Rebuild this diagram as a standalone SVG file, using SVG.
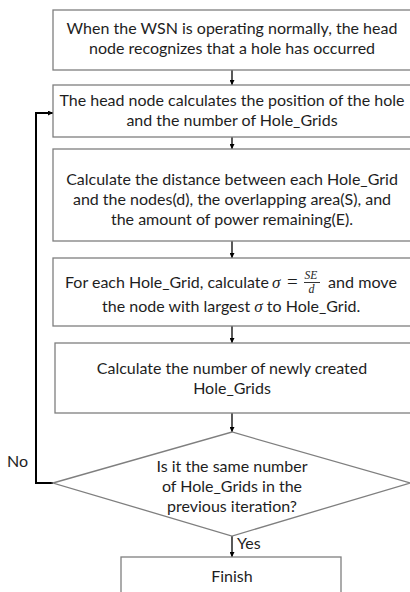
<svg xmlns="http://www.w3.org/2000/svg" width="410" height="592" viewBox="0 0 410 592">
<defs>
<marker id="ah" viewBox="0 0 10 10" refX="10" refY="5" markerWidth="5" markerHeight="5" orient="auto" markerUnits="userSpaceOnUse"><path d="M0,0 L10,5 L0,10 z" fill="#000"/></marker>
<style>
.box{fill:#fff;stroke:#7f7f7f;stroke-width:1.3}
.t{font-family:Lato,"Open Sans","Liberation Sans",sans-serif;font-size:16px;fill:#1e1e1e;text-anchor:middle}
.l{font-family:Lato,"Open Sans","Liberation Sans",sans-serif;font-size:16px;fill:#1e1e1e}
.m{font-family:"Liberation Serif","DejaVu Serif",serif;font-style:italic;fill:#1e1e1e}
.c{stroke:#000;stroke-width:1.3;fill:none;marker-end:url(#ah)}
</style>
</defs>
<rect width="410" height="592" fill="#fff"/>
<g id="connectors">
<line class="c" x1="232" y1="70" x2="232" y2="85"/>
<line class="c" x1="232" y1="137" x2="232" y2="149"/>
<line class="c" x1="232" y1="241" x2="232" y2="258"/>
<line class="c" x1="232" y1="326" x2="232" y2="343"/>
<line class="c" x1="232" y1="413" x2="232" y2="432"/>
<line class="c" x1="232" y1="536" x2="232" y2="557"/>
<polyline class="c" style="stroke-width:2" points="53,483 36,483 36,113 53,113"/>
<text class="l" x="7" y="467">No</text>
<text class="l" x="237" y="549">Yes</text>
</g>
<g id="n1">
<rect class="box" x="53" y="10" width="370" height="60"/>
<text class="t" x="232" y="34">When the WSN is operating normally, the head</text>
<text class="t" x="232" y="54">node recognizes that a hole has occurred</text>
</g>
<g id="n2">
<rect class="box" x="53" y="85" width="370" height="52"/>
<text class="t" x="232" y="106">The head node calculates the position of the hole</text>
<text class="t" x="232" y="126">and the number of Hole_Grids</text>
</g>
<g id="n3">
<rect class="box" x="53" y="149" width="370" height="92"/>
<text class="t" x="232" y="185">Calculate the distance between each Hole_Grid</text>
<text class="t" x="232" y="205">and the nodes(d), the overlapping area(S), and</text>
<text class="t" x="232" y="225">the amount of power remaining(E).</text>
</g>
<g id="n4">
<rect class="box" x="53" y="258" width="370" height="68"/>
<text class="l" x="65" y="288" textLength="204" lengthAdjust="spacingAndGlyphs">For each Hole_Grid, calculate</text>
<text class="m" x="272" y="288" font-size="17">σ</text>
<text x="287" y="288" font-family="'Liberation Serif',serif" font-size="19" fill="#1e1e1e">=</text>
<text class="m" x="304.5" y="279" font-size="11.5">SE</text>
<line x1="304" y1="282.5" x2="320" y2="282.5" stroke="#1e1e1e" stroke-width="0.9"/>
<text class="m" x="308.5" y="293" font-size="12">d</text>
<text class="l" x="328" y="288" textLength="69" lengthAdjust="spacingAndGlyphs">and move</text>
<text class="l" x="102" y="312">the node with largest <tspan class="m" font-size="17">σ</tspan> to Hole_Grid.</text>
</g>
<g id="n5">
<rect class="box" x="55" y="343" width="370" height="70"/>
<text class="t" x="232" y="374">Calculate the number of newly created</text>
<text class="t" x="232" y="394">Hole_Grids</text>
</g>
<g id="n6">
<polygon class="box" points="53,483 232,432 410,483 232,536"/>
<text class="t" x="232" y="472">Is it the same number</text>
<text class="t" x="232" y="492">of Hole_Grids in the</text>
<text class="t" x="232" y="512">previous iteration?</text>
</g>
<g id="n7">
<rect class="box" x="121" y="557" width="220" height="45"/>
<text class="t" x="232" y="582">Finish</text>
</g>
</svg>
